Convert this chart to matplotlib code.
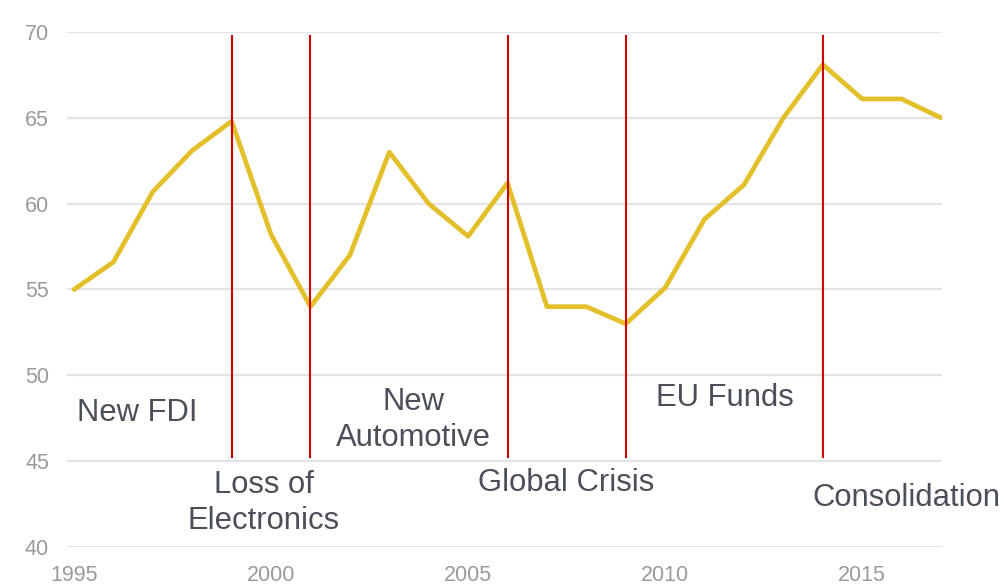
import matplotlib
matplotlib.use("Agg")
import matplotlib.pyplot as plt
import numpy as np

# yearly index values
years = list(range(1995, 2018))
values = [55.0, 56.6, 60.7, 63.1, 64.8, 58.2, 54.0, 57.0, 63.0, 60.0, 58.1, 61.2,
          54.0, 54.0, 53.0, 55.1, 59.1, 61.1, 65.0, 68.1, 66.1, 66.1, 65.0]

# period boundaries and their captions
break_years = [1999, 2001, 2006, 2009, 2014]
period_labels = ["New FDI", "Loss of\nElectronics", "New\nAutomotive",
                 "Global Crisis", "EU Funds", "Consolidation"]
label_pos = [(1996.6, 47.8), (1999.82, 42.55), (2003.62, 47.4),
             (2007.48, 43.75), (2011.51, 48.7), (2016.11, 42.85)]

y_ticks = [40, 45, 50, 55, 60, 65, 70]
x_ticks = [1995, 2000, 2005, 2010, 2015]

plt.rcParams["font.family"] = ["Liberation Sans", "DejaVu Sans"]

W, H = 1005, 588
fig = plt.figure(figsize=(W / 100, H / 100), dpi=100)
ax = fig.add_axes([67 / W, 1 - 547 / H, (942 - 67) / W, (547 - 32) / H])

ax.set_xlim(1994.822, 2017.025)
ax.set_ylim(40, 70)
ax.set_yticks(y_ticks)
ax.set_xticks(x_ticks)
ax.grid(axis="y", color="#e4e4e4", linewidth=1.6)
ax.set_axisbelow(True)
for s in ax.spines.values():
    s.set_visible(False)
ax.tick_params(axis="both", length=0, labelsize=15.5, labelcolor="#9a9a9a")
ax.tick_params(axis="y", pad=13)
ax.tick_params(axis="x", pad=13)

ax.plot(years, values, color="#e3bf2a", linewidth=3.4, solid_joinstyle="round",
        solid_capstyle="round", zorder=3)

ax.vlines(break_years, 45.2, 69.8, color="#d00000", linewidth=1.5, zorder=4)

for txt, (x, y) in zip(period_labels, label_pos):
    ax.text(x, y, txt, ha="center", va="center", fontsize=22.3, color="#4b5058",
            linespacing=1.25, clip_on=False, zorder=5)

fig.savefig("out.png", dpi=100, facecolor="white")
